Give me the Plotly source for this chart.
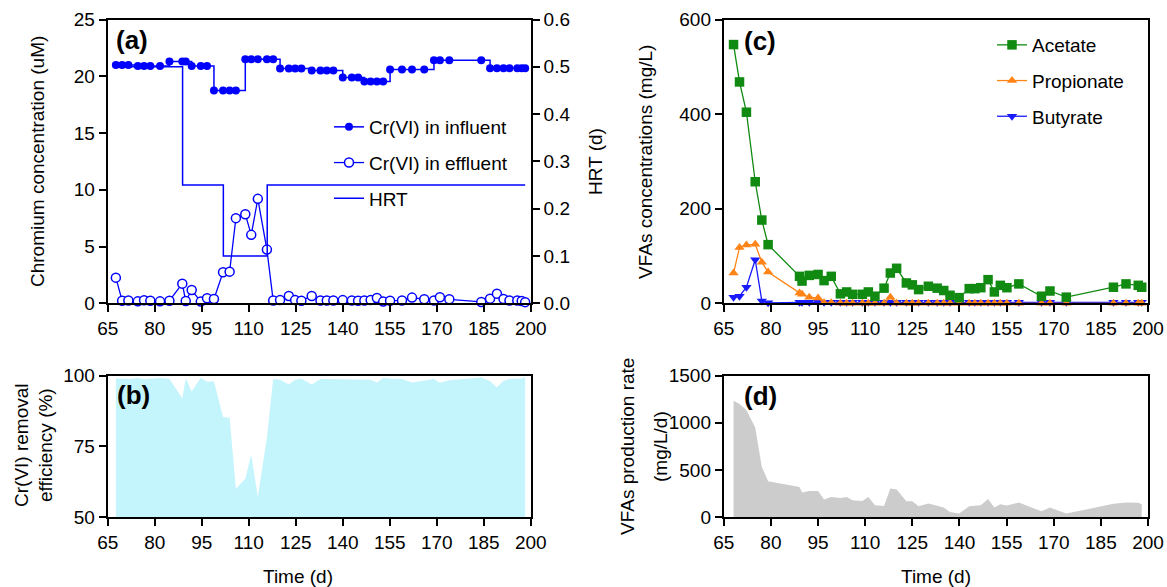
import plotly.graph_objects as go

# ---------------- data ----------------
cr_days = [67.6, 69.6, 71.6, 74.6, 76.6, 78.6, 81.7, 84.7, 88.8, 89.9, 91.8, 94.7, 96.7, 98.9,
           101.8, 103.9, 105.9, 108.9, 110.8, 112.9, 115.8, 117.8, 120.0, 122.8, 124.8, 126.8,
           130.1, 132.9, 134.9, 137.0, 140.0, 142.9, 144.9, 146.9, 148.9, 150.9, 152.9, 155.1,
           158.9, 162.1, 166.0, 169.1, 171.0, 174.0, 184.2, 187.0, 189.2, 191.3, 193.2, 195.7,
           197.1, 198.2]
cr_influent = [21.0, 21.0, 21.0, 20.9, 20.9, 20.9, 20.9, 21.3, 21.3, 21.3, 20.9, 20.9, 20.9,
               18.74, 18.74, 18.74, 18.74, 21.5, 21.5, 21.5, 21.5, 21.5, 20.68, 20.68, 20.68,
               20.68, 20.5, 20.5, 20.5, 20.5, 19.9, 19.9, 19.9, 19.53, 19.53, 19.53, 19.53,
               20.6, 20.6, 20.6, 20.6, 21.4, 21.4, 21.4, 21.4, 20.7, 20.7, 20.7, 20.7, 20.7,
               20.7, 20.7]
cr_effluent = [2.26, 0.23, 0.25, 0.17, 0.27, 0.23, 0.17, 0.23, 1.73, 0.2, 1.17, 0.15, 0.44,
               0.38, 2.73, 2.79, 7.5, 7.85, 6.03, 9.2, 4.73, 0.25, 0.28, 0.64, 0.28, 0.23, 0.64,
               0.25, 0.25, 0.25, 0.28, 0.25, 0.23, 0.25, 0.28, 0.47, 0.15, 0.23, 0.25, 0.5,
               0.35, 0.25, 0.53, 0.35, 0.12, 0.41, 0.85, 0.38, 0.25, 0.25, 0.2, 0.1]
removal_eff = [99.0, 98.9, 98.8, 99.2, 98.7, 98.9, 99.2, 98.9, 91.9, 99.1, 94.4, 99.3, 97.9,
               98.0, 85.4, 85.1, 60.0, 63.5, 72.0, 57.2, 78.0, 98.8, 98.6, 96.9, 98.6, 98.9,
               96.9, 98.8, 98.8, 98.8, 98.6, 98.7, 98.8, 98.7, 98.6, 97.6, 99.2, 98.9, 98.8,
               97.6, 98.3, 98.8, 97.5, 98.4, 99.4, 98.0, 95.9, 98.2, 98.8, 98.8, 99.0, 99.5]

hrt_days = [67.6, 88.9, 101.9, 115.9, 198.2]
hrt_vals = [0.5, 0.25, 0.1, 0.25, 0.25]

vfa_days = [68.1, 70.0, 72.2, 75.0, 77.1, 79.1, 89.1, 89.9, 92.2, 95.0, 96.9, 99.2, 102.1,
            104.1, 106.0, 109.1, 111.0, 113.1, 116.0, 118.0, 120.0, 123.1, 125.0, 127.0,
            130.1, 132.9, 135.0, 137.0, 139.9, 143.1, 144.9, 146.8, 149.1, 151.1, 153.0,
            155.1, 158.9, 166.1, 168.8, 174.0, 189.0, 193.0, 196.9, 198.0]
acetate = [547, 468, 404, 257, 176, 124, 57, 47, 59, 61, 48, 57, 20, 24, 19, 19, 24, 15, 32,
           64, 74, 43, 39, 29, 36, 32, 27, 17, 12, 31, 31, 33, 50, 24, 38, 33, 41, 15, 26, 13,
           34, 41, 38, 34]
propionate = [64, 118, 123, 125, 87, 66, 22, 19, 13, 11, 1, 1, 0, 0, 0, 0, 0, 0, 0, 13, 0, 0,
              0, 0, 0, 0, 0, 0, 0, 0, 0, 0, 0, 0, 0, 0, 0, 0, 0, 0, 0, 0, 0, 0]
butyrate = [13, 15, 34, 92, 5, 1, 2, 2, 2, 2, 2, 2, 2, 2, 2, 2, 2, 2, 2, 2, 2, 2, 2, 2, 2, 2,
            2, 2, 2, 2, 2, 2, 2, 2, 2, 2, 2, 2, 2, 2, 2, 2, 2, 2]
vfa_rate = [1234, 1199, 1135, 951, 532, 380, 319, 260, 277, 277, 185, 213, 202, 213, 178, 170,
            213, 124, 117, 302, 291, 167, 167, 114, 142, 120, 100, 53, 36, 114, 118, 124, 191,
            100, 135, 121, 153, 60, 100, 36, 140, 153, 150, 135]

x_ticks = [65, 80, 95, 110, 125, 140, 155, 170, 185, 200]

# ---------------- geometry helpers ----------------
W, H = 1167, 587
def px(x):
    return x / W
def py(y):
    return 1 - y / H

FONT = "Liberation Sans, Arial, sans-serif"
BLUE = "#0000ff"
GREEN = "#118a11"
ORANGE = "#ff8417"
BLUE2 = "#1a1aff"

xa = [px(107.7), px(530.8)]
xc = [px(723.8), px(1148)]
ytop = [py(303.3), py(19.5)]
ybot = [py(517), py(375.7)]

fig = go.Figure()

# ---- panel (a)
fig.add_trace(go.Scatter(x=cr_days, y=cr_influent, xaxis="x", yaxis="y", mode="lines+markers",
                         line=dict(color=BLUE, width=1.5, shape="hv"),
                         marker=dict(symbol="circle", size=8, color=BLUE),
                         name="Cr(VI) in influent", legend="legend", legendgroup="a1",
                         legendrank=1, cliponaxis=False))
fig.add_trace(go.Scatter(x=cr_days, y=cr_effluent, xaxis="x", yaxis="y", mode="lines+markers",
                         line=dict(color=BLUE, width=1.3),
                         marker=dict(symbol="circle", size=9, color="white",
                                     line=dict(color=BLUE, width=1.5)),
                         name="Cr(VI) in effluent", legend="legend", legendgroup="a2",
                         legendrank=2, cliponaxis=False))
fig.add_trace(go.Scatter(x=hrt_days, y=hrt_vals, xaxis="x", yaxis="y2", mode="lines",
                         line=dict(color=BLUE, width=1.5, shape="hv"),
                         name="HRT", legend="legend", legendgroup="a3", legendrank=3))

# ---- panel (b)
fig.add_trace(go.Scatter(x=cr_days, y=removal_eff, xaxis="x2", yaxis="y3", mode="lines",
                         fill="tozeroy", fillcolor="#c4f4fc",
                         line=dict(color="#c4f4fc", width=0), showlegend=False))

# ---- panel (c)
fig.add_trace(go.Scatter(x=vfa_days, y=butyrate, xaxis="x3", yaxis="y4", mode="lines+markers",
                         line=dict(color=BLUE2, width=1.3),
                         marker=dict(symbol="triangle-down", size=9, color=BLUE2),
                         name="Butyrate", legend="legend2", legendgroup="c3", legendrank=3,
                         cliponaxis=False))
fig.add_trace(go.Scatter(x=vfa_days, y=propionate, xaxis="x3", yaxis="y4", mode="lines+markers",
                         line=dict(color=ORANGE, width=1.3),
                         marker=dict(symbol="triangle-up", size=9, color=ORANGE),
                         name="Propionate", legend="legend2", legendgroup="c2", legendrank=2,
                         cliponaxis=False))
fig.add_trace(go.Scatter(x=vfa_days, y=acetate, xaxis="x3", yaxis="y4", mode="lines+markers",
                         line=dict(color=GREEN, width=1.3),
                         marker=dict(symbol="square", size=9.5, color=GREEN),
                         name="Acetate", legend="legend2", legendgroup="c1", legendrank=1,
                         cliponaxis=False))

# ---- panel (d)
fig.add_trace(go.Scatter(x=vfa_days, y=vfa_rate, xaxis="x4", yaxis="y5", mode="lines",
                         fill="tozeroy", fillcolor="#cccccc",
                         line=dict(color="#cccccc", width=0), showlegend=False))

axis_common = dict(ticks="outside", ticklen=7, tickwidth=1.5, tickcolor="black",
                   showline=True, linewidth=2, linecolor="black", showgrid=False,
                   zeroline=False, automargin=False,
                   tickfont=dict(family=FONT, size=19, color="black"))
xcommon = dict(axis_common, range=[65, 200], tickvals=x_ticks, mirror=True)

fig.update_layout(
    width=W, height=H, autosize=False,
    margin=dict(l=0, r=0, t=0, b=0, autoexpand=False),
    paper_bgcolor="white", plot_bgcolor="white",
    font=dict(family=FONT, size=19, color="black"),
    xaxis=dict(xcommon, domain=xa, anchor="y"),
    xaxis2=dict(xcommon, domain=xa, anchor="y3"),
    xaxis3=dict(xcommon, domain=xc, anchor="y4"),
    xaxis4=dict(xcommon, domain=xc, anchor="y5"),
    yaxis=dict(axis_common, domain=ytop, anchor="x", range=[0, 25],
               tickvals=[0, 5, 10, 15, 20, 25]),
    yaxis2=dict(axis_common, overlaying="y", side="right", anchor="x", range=[0, 0.6],
                tickvals=[0, 0.1, 0.2, 0.3, 0.4, 0.5, 0.6], tickformat=".1f"),
    yaxis3=dict(axis_common, domain=ybot, anchor="x2", range=[50, 100],
                tickvals=[50, 75, 100], mirror=True),
    yaxis4=dict(axis_common, domain=ytop, anchor="x3", range=[0, 600],
                tickvals=[0, 200, 400, 600], mirror=True),
    yaxis5=dict(axis_common, domain=ybot, anchor="x4", range=[0, 1500],
                tickvals=[0, 500, 1000, 1500], mirror=True),
    legend=dict(x=px(329), y=py(108), xanchor="left", yanchor="top",
                bgcolor="rgba(0,0,0,0)", font=dict(family=FONT, size=19, color="black"),
                tracegroupgap=8, itemwidth=30),
    legend2=dict(x=px(992), y=py(26), xanchor="left", yanchor="top",
                 bgcolor="rgba(0,0,0,0)", font=dict(family=FONT, size=19, color="black"),
                 tracegroupgap=8, itemwidth=30),
    showlegend=True,
)

ann = []
def label(text, x, y, size=26, bold=True):
    ann.append(dict(text=f"<b>{text}</b>" if bold else text, x=px(x), y=py(y),
                    xref="paper", yref="paper", xanchor="left", yanchor="middle",
                    showarrow=False, font=dict(family=FONT, size=size, color="black")))
label("(a)", 114, 40)
label("(b)", 115, 395)
label("(c)", 742, 41)
label("(d)", 742, 396)

def vtitle(text, x, y):
    ann.append(dict(text=text, x=px(x), y=py(y), xref="paper", yref="paper",
                    xanchor="center", yanchor="middle", textangle=-90, showarrow=False,
                    font=dict(family=FONT, size=19, color="black")))
vtitle("Chromium concentration (uM)", 37, 162)
vtitle("HRT (d)", 595, 162)
vtitle("VFAs concentrations (mg/L)", 645, 162)
vtitle("Cr(VI) removal", 21, 445)
vtitle("efficiency (%)", 45, 445)
vtitle("VFAs production rate", 627, 447)
vtitle("(mg/L/d)", 660, 447)

def htitle(text, x, y):
    ann.append(dict(text=text, x=px(x), y=py(y), xref="paper", yref="paper",
                    xanchor="center", yanchor="middle", showarrow=False,
                    font=dict(family=FONT, size=19, color="black")))
htitle("Time (d)", 298, 576)
htitle("Time (d)", 936, 576)

fig.update_layout(annotations=ann)
fig.write_html(
    "out.html",
    config={"displayModeBar": False},
    post_script="document.body.style.margin='0px';document.body.style.overflow='hidden';",
)
